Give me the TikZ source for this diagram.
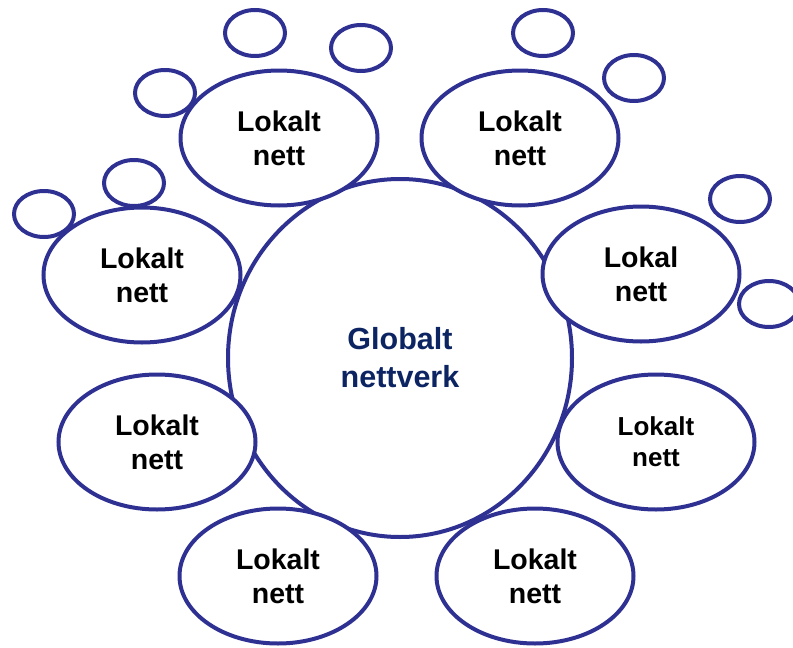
\documentclass[tikz,border=0pt]{standalone}
\usepackage{fontspec}
\setmainfont{Liberation Sans}
\usetikzlibrary{shapes.geometric}
\definecolor{ringblue}{RGB}{46,49,146}
\definecolor{navytext}{RGB}{12,36,98}
\tikzset{
  ring/.style={ellipse, draw=ringblue, line width=4pt, fill=white, inner sep=0pt, outer sep=0pt, align=center},
  localnet/.style={ring, minimum width=197pt, minimum height=135pt, font=\fontsize{28.5}{34}\selectfont\bfseries, text=black},
  smallnet/.style={ring, minimum width=60pt, minimum height=46pt},
}
\begin{document}
\begin{tikzpicture}[x=1pt,y=-1pt]
\useasboundingbox (0,0) rectangle (793,648);
\clip (0,0) rectangle (793,648);
\node[ring, minimum width=344pt, minimum height=358pt, font=\fontsize{30.5}{38}\selectfont\bfseries, text=navytext] (global) at (400,358) {Globalt\\nettverk};
\node[localnet] (tl) at (279,138) {Lokalt\\nett};
\node[localnet] (tr) at (520,138) {Lokalt\\nett};
\node[localnet] (l) at (142,275) {Lokalt\\nett};
\node[localnet] (r) at (641,274) {Lokal\\nett};
\node[localnet] (ll) at (157,442) {Lokalt\\nett};
\node[localnet, font=\fontsize{26}{31}\selectfont\bfseries] (rl) at (656,442) {Lokalt\\nett};
\node[localnet] (bl) at (278,576) {Lokalt\\nett};
\node[localnet] (br) at (535,576) {Lokalt\\nett};
\node[smallnet] (sa) at (255,33) {};
\node[smallnet] (sb) at (361,48) {};
\node[smallnet] (sc) at (165,93) {};
\node[smallnet] (sd) at (134,183) {};
\node[smallnet] (se) at (44,214) {};
\node[smallnet] (sf) at (543,33) {};
\node[smallnet] (sg) at (634,78) {};
\node[smallnet] (sh) at (740,199) {};
\node[smallnet] (si) at (769,304) {};
\end{tikzpicture}
\end{document}
